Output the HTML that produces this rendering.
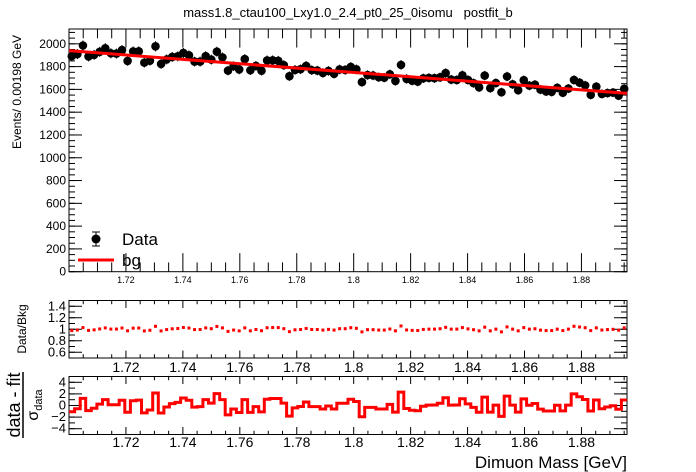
<!DOCTYPE html>
<html><head><meta charset="utf-8"><style>
body{margin:0;background:#fff}
svg{display:block;font-family:"Liberation Sans",Arial,sans-serif}
</style></head><body>
<svg id="c" width="696" height="472" viewBox="0 0 696 472">
<text x="348" y="17" text-anchor="middle" font-size="13" style="white-space:pre">mass1.8_ctau100_Lxy1.0_2.4_pt0_25_0isomu   postfit_b</text>
<text transform="translate(21,92) rotate(-90)" text-anchor="middle" font-size="12">Events/ 0.00198 GeV</text>
<text transform="translate(26,329) rotate(-90)" text-anchor="middle" font-size="12">Data/Bkg</text>
<g>
<text transform="translate(20,405) rotate(-90)" text-anchor="middle" font-size="18">data - fit</text>
<line x1="23" y1="372" x2="23" y2="438" stroke="#000" stroke-width="1.5"/>
<text transform="translate(38,405) rotate(-90)" text-anchor="middle" font-size="16">σ<tspan font-size="11" dy="4">data</tspan></text>
</g>
<text x="627" y="468" text-anchor="end" font-size="17">Dimuon Mass [GeV]</text>
<g>
<line x1="96" y1="232" x2="96" y2="246" stroke="#000"/><line x1="92" y1="232" x2="100" y2="232" stroke="#000"/><line x1="92" y1="246" x2="100" y2="246" stroke="#000"/>
<circle cx="96" cy="239" r="4.5" fill="#000"/>
<text x="122" y="245" font-size="17">Data</text>
<line x1="78" y1="260" x2="114" y2="260" stroke="#f00" stroke-width="3"/>
<text x="122" y="266" font-size="17">bg</text>
</g>
</svg>
<script>
const counts=[1892,1910,1985,1889,1903,1930,1961,1917,1914,1945,1850,1933,1934,1835,1852,1978,1823,1863,1885,1890,
1920,1899,1844,1844,1892,1862,1931,1881,1765,1804,1775,1866,1768,1806,1764,1854,1855,1851,1813,1716,
1771,1777,1806,1769,1765,1744,1762,1737,1775,1771,1797,1776,1664,1726,1722,1707,1703,1732,1674,1815,
1692,1676,1668,1697,1701,1698,1706,1743,1686,1683,1724,1683,1655,1618,1721,1611,1656,1575,1713,1645,
1593,1681,1633,1641,1598,1582,1578,1614,1571,1607,1683,1659,1635,1552,1624,1560,1568,1572,1545,1605];
const fitStart=1940, fitEnd=1565;
const xTicks=[1.72,1.74,1.76,1.78,1.8,1.82,1.84,1.86,1.88];
const xTickLabels=["1.72","1.74","1.76","1.78","1.8","1.82","1.84","1.86","1.88"];
const yTicks=[0,200,400,600,800,1000,1200,1400,1600,1800,2000];
const ratioTicks=[0.6,0.8,1,1.2,1.4];
const pullTicks=[-4,-2,0,2,4];
const XMIN=1.70,XMAX=1.896,NB=counts.length,BW=(XMAX-XMIN)/NB;
const L=69,R=627;
const svg=document.getElementById('c');const NS='http://www.w3.org/2000/svg';
function mk(t,a,p){const e=document.createElementNS(NS,t);for(const k in a)e.setAttribute(k,a[k]);(p||svg).appendChild(e);return e;}
const X=v=>L+(v-XMIN)/(XMAX-XMIN)*(R-L);
function ymap(top,bot,lo,hi){return v=>bot-(v-lo)/(hi-lo)*(bot-top);}
const Ym=ymap(29,271.7,0,2130), Yr=ymap(300.5,358,0.5,1.5), Yp=ymap(376.5,434.5,-5,5);
const fit=i=>fitStart+(fitEnd-fitStart)*(i+0.5)/NB;
function frame(name,top,bot,yt,Y,fmt,fs,minorStep,lo,hi,labelY,labFs){
  const g=mk('g',{});
  mk('rect',{x:L,y:top,width:R-L,height:bot-top,fill:'none',stroke:'#000','stroke-width':1},g);
  for(let v=lo;v<=hi+1e-9;v+=minorStep){const y=Y(v);if(y<top-0.5||y>bot+0.5)continue;
    mk('line',{x1:L,y1:y,x2:L+6,y2:y,stroke:'#000'},g);mk('line',{x1:R,y1:y,x2:R-6,y2:y,stroke:'#000'},g);}
  yt.forEach(v=>{const y=Y(v);mk('line',{x1:L,y1:y,x2:L+13,y2:y,stroke:'#000'},g);mk('line',{x1:R,y1:y,x2:R-13,y2:y,stroke:'#000'},g);
    const t=mk('text',{x:L-3,y:y+4,'text-anchor':'end','font-size':fs},g);t.textContent=fmt(v);
    
    });
  for(let v=1.700;v<=XMAX+1e-9;v+=0.005){const x=X(v);const maj=Math.abs(v*50-Math.round(v*50))<1e-6;const h=maj?(bot-top)*0.06+4:(bot-top)*0.03+2;
    mk('line',{x1:x,y1:bot,x2:x,y2:bot-h,stroke:'#000'},g);mk('line',{x1:x,y1:top,x2:x,y2:top+h,stroke:'#000'},g);}
  xTicks.forEach((v,i)=>{const t=mk('text',{x:X(v),y:labelY,'text-anchor':'middle','font-size':labFs},g);t.textContent=xTickLabels[i];
    
    });
  return g;
}
frame('main-plot',29,271.7,yTicks,Ym,v=>String(v),12,50,0,2130,283,9);
frame('ratio-panel',300.5,358,ratioTicks,Yr,v=>String(v),13,0.1,0.5,1.5,372,14);
frame('pull-panel',376.5,434.5,pullTicks,Yp,v=>String(v).replace('-','\u2212'),13,1,-5,5,447,14);
const gd=mk('g',{});
counts.forEach((c,i)=>{const x=X(XMIN+(i+0.5)*BW),e=Math.sqrt(c);
  mk('line',{x1:x,y1:Ym(c+e),x2:x,y2:Ym(c-e),stroke:'#000'},gd);
  const p=mk('circle',{cx:x,cy:Ym(c),r:4.3,fill:'#000'},gd);
  
  });
const fl=mk('line',{x1:X(XMIN),y1:Ym(fitStart),x2:X(XMAX),y2:Ym(fitEnd),stroke:'#f00','stroke-width':3});


const gr=mk('g',{});
counts.forEach((c,i)=>{const x=X(XMIN+(i+0.5)*BW),f=fit(i),r=c/f,e=Math.sqrt(c)/f;
  mk('line',{x1:x,y1:Yr(r+e),x2:x,y2:Yr(r-e),stroke:'#f00'},gr);
  const p=mk('rect',{x:x-1.5,y:Yr(r)-1.5,width:3,height:3,fill:'#f00'},gr);
  
  });
let d='';counts.forEach((c,i)=>{const pv=(c-fit(i))/Math.sqrt(c);const x0=X(XMIN+i*BW),x1=X(XMIN+(i+1)*BW),y=Yp(pv);
  d+=(i?'L':'M')+x0.toFixed(1)+' '+y.toFixed(1)+'L'+x1.toFixed(1)+' '+y.toFixed(1);});
const pp=mk('path',{d:d,fill:'none',stroke:'#f00','stroke-width':3});


</script>
</body></html>
